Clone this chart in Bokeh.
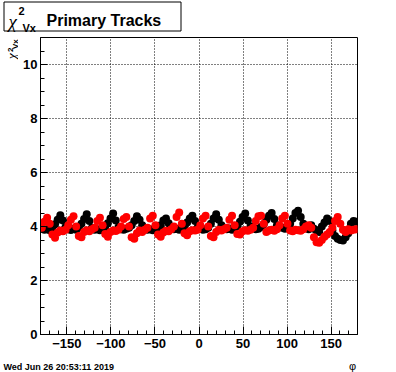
import math
from bokeh.plotting import figure
from bokeh.layouts import column, row
from bokeh.models import Range1d, Label, BoxAnnotation, SingleIntervalTicker, ColumnDataSource
from bokeh.embed import file_html
from bokeh.resources import INLINE

# ---- data ----
phi = [
    -178.5, -175.5, -172.5, -169.5, -166.5, -163.5, -160.5, -157.5, -154.5, -151.5,
    -148.5, -145.5, -142.5, -139.5, -136.5, -133.5, -130.5, -127.5, -124.5, -121.5,
    -118.5, -115.5, -112.5, -109.5, -106.5, -103.5, -100.5, -97.5, -94.5, -91.5,
    -88.5, -85.5, -82.5, -79.5, -76.5, -73.5, -70.5, -67.5, -64.5, -61.5,
    -58.5, -55.5, -52.5, -49.5, -46.5, -43.5, -40.5, -37.5, -34.5, -31.5,
    -28.5, -25.5, -22.5, -19.5, -16.5, -13.5, -10.5, -7.5, -4.5, -1.5,
    1.5, 4.5, 7.5, 10.5, 13.5, 16.5, 19.5, 22.5, 25.5, 28.5,
    31.5, 34.5, 37.5, 40.5, 43.5, 46.5, 49.5, 52.5, 55.5, 58.5,
    61.5, 64.5, 67.5, 70.5, 73.5, 76.5, 79.5, 82.5, 85.5, 88.5,
    91.5, 94.5, 97.5, 100.5, 103.5, 106.5, 109.5, 112.5, 115.5, 118.5,
    121.5, 124.5, 127.5, 130.5, 133.5, 136.5, 139.5, 142.5, 145.5, 148.5,
    151.5, 154.5, 157.5, 160.5, 163.5, 166.5, 169.5, 172.5, 175.5, 178.5,
]

chi2_black = [
    3.92, 3.88, 3.90, 3.86, 3.95, 4.08, 4.25, 4.42, 4.22, 3.98,
    3.90, 3.87, 3.92, 3.88, 3.96, 4.10, 4.28, 4.45, 4.20, 3.95,
    3.88, 3.90, 3.86, 3.92, 3.98, 4.12, 4.30, 4.48, 4.22, 3.97,
    3.90, 3.88, 3.92, 3.95, 4.05, 4.20, 4.38, 4.25, 4.05, 3.92,
    3.88, 3.90, 3.86, 3.90, 3.95, 4.05, 4.22, 4.30, 4.12, 3.95,
    3.90, 3.92, 3.88, 3.94, 4.00, 4.15, 4.30, 4.40, 4.20, 3.96,
    3.92, 3.88, 3.90, 3.95, 4.10, 4.30, 4.45, 4.25, 4.05, 3.92,
    3.90, 3.93, 3.88, 3.95, 4.02, 4.18, 4.35, 4.48, 4.22, 4.00,
    3.95, 3.90, 3.92, 3.98, 4.08, 4.25, 4.40, 4.50, 4.28, 4.05,
    4.00, 3.95, 3.92, 3.98, 4.10, 4.30, 4.50, 4.58, 4.35, 4.10,
    3.95, 3.90, 4.05, 3.92, 3.85, 3.80, 4.00, 4.15, 4.30, 4.20,
    3.85, 3.65, 3.55, 3.50, 3.48, 3.60, 3.75, 4.10, 4.20, 4.18,
]

chi2_red = [
    3.95, 4.18, 4.32, 4.10, 3.70, 3.58, 3.78, 3.85, 3.82, 3.88,
    4.05, 4.25, 4.38, 4.00, 3.65, 3.60, 3.80, 3.86, 3.82, 3.90,
    3.95, 4.20, 4.32, 4.05, 3.72, 3.62, 3.80, 3.85, 3.83, 3.88,
    4.00, 4.28, 4.35, 4.00, 3.60, 3.55, 3.75, 3.85, 3.80, 3.88,
    3.95, 4.30, 4.40, 4.05, 3.70, 3.62, 3.78, 3.84, 3.82, 3.90,
    4.00, 4.35, 4.52, 4.10, 3.75, 3.68, 3.82, 3.86, 3.85, 3.88,
    4.05, 4.30, 4.40, 4.00, 3.65, 3.60, 3.80, 3.88, 3.85, 3.90,
    3.95, 4.25, 4.40, 4.05, 3.72, 3.70, 3.82, 3.86, 3.84, 3.88,
    3.95, 4.20, 4.38, 4.40, 4.10, 3.80, 3.85, 3.88, 3.84, 3.90,
    4.05, 4.30, 4.40, 4.10, 3.85, 3.82, 3.88, 3.86, 3.84, 3.90,
    4.00, 4.05, 3.95, 3.60, 3.42, 3.40, 3.50, 3.62, 3.70, 3.80,
    3.95, 4.20, 4.35, 4.10, 3.88, 3.80, 3.90, 3.85, 3.88, 3.90,
]

x_ticks_minus = {-150: "\u2212150", -100: "\u2212100", -50: "\u221250"}
title_text = "Primary Tracks"
date_text = "Wed Jun 26 20:53:11 2019"
x_title = "\u03c6"

FONT = "Liberation Sans"
SERIF = "Liberation Serif"

# ---- page geometry ----
W, H = 396, 372
TOP_H = 34          # strip holding the title box
BOT_H = 16          # strip holding the date and the x title
LEFT_W = 18         # strip holding the rotated y title
MAIN_W = W - LEFT_W
MAIN_H = H - TOP_H - BOT_H


def blank(w, h):
    f = figure(width=w, height=h, x_range=Range1d(0, 1), y_range=Range1d(0, 1),
               output_backend="svg", toolbar_location=None, min_border=0,
               x_axis_type=None, y_axis_type=None)
    f.outline_line_color = None
    f.background_fill_color = "white"
    f.border_fill_color = "white"
    return f


def lab(f, x, y, text, size, font=FONT, style="bold", align="left", angle=0.0,
        baseline="alphabetic"):
    f.add_layout(Label(x=x, y=y, x_units="canvas", y_units="canvas", text=text,
                       text_font=font, text_font_style=style, text_font_size=size,
                       text_baseline=baseline, text_align=align, text_color="black",
                       angle=angle))


# ---- main plot ----
p = figure(width=MAIN_W, height=MAIN_H, x_range=Range1d(-180, 180), y_range=Range1d(0, 11),
           output_backend="svg", toolbar_location=None,
           min_border_left=22, min_border_right=39, min_border_top=3, min_border_bottom=22)
p.background_fill_color = "white"
p.border_fill_color = "white"
p.outline_line_color = "black"
p.outline_line_width = 1
p.outline_line_alpha = 1

p.xaxis.ticker = SingleIntervalTicker(interval=50, num_minor_ticks=5)
p.yaxis.ticker = SingleIntervalTicker(interval=2, num_minor_ticks=4)
p.xaxis.major_label_overrides = x_ticks_minus
for ax in (p.xaxis[0], p.yaxis[0]):
    ax.axis_line_color = "black"
    ax.major_tick_line_color = "black"
    ax.minor_tick_line_color = "black"
    ax.major_tick_out = 0
    ax.minor_tick_out = 0
    ax.major_label_text_font = FONT
    ax.major_label_text_font_style = "bold"
    ax.major_label_text_font_size = "13px"
    ax.major_label_text_color = "black"
p.xaxis.major_tick_in = 8
p.xaxis.minor_tick_in = 4
p.yaxis.major_tick_in = 7
p.yaxis.minor_tick_in = 4
p.xaxis.major_label_standoff = 4
p.yaxis.major_label_standoff = 3

for g in (p.xgrid[0], p.ygrid[0]):
    g.grid_line_color = "black"
    g.grid_line_dash = "1 2"
    g.grid_line_width = 1

src_b = ColumnDataSource(dict(x=phi, y=chi2_black))
src_r = ColumnDataSource(dict(x=phi, y=chi2_red))
p.scatter("x", "y", source=src_b, size=8, color="black", line_color=None)
p.scatter("x", "y", source=src_r, size=8, color="red", line_color=None)

# ---- title strip ----
top = blank(W, TOP_H)
top.add_layout(BoxAnnotation(left=3.5, right=180.5, top=1.5, bottom=30.5,
                             left_units="canvas", right_units="canvas",
                             top_units="canvas", bottom_units="canvas",
                             fill_color="white", fill_alpha=1.0,
                             line_color="black", line_width=1, line_alpha=1.0))
lab(top, 8, 21, "\u03c7", "19px", font=SERIF, style="italic")
lab(top, 18, 10, "2", "11px")
lab(top, 22, 27, "Vx", "11px")
lab(top, 46, 19.5, title_text, "16px")

# ---- y title strip (rotated, reads upward) ----
left = blank(LEFT_W, MAIN_H)
lab(left, 10.5, 24.5, "\u03c7", "13px", font=SERIF, style="italic", angle=math.pi / 2)
lab(left, 9.5, 17.5, "2", "8px", angle=math.pi / 2)
lab(left, 14.5, 14.5, "Vx", "8px", angle=math.pi / 2)

# ---- bottom strip: date and x title ----
bot = blank(W, BOT_H)
lab(bot, 3, 10.5, date_text, "9px")
lab(bot, 352, 9.5, x_title, "11px", style="normal", align="center")

layout = column(top, row(left, p, spacing=0), bot, spacing=0)
open("out.html", "w").write(file_html(layout, INLINE))
